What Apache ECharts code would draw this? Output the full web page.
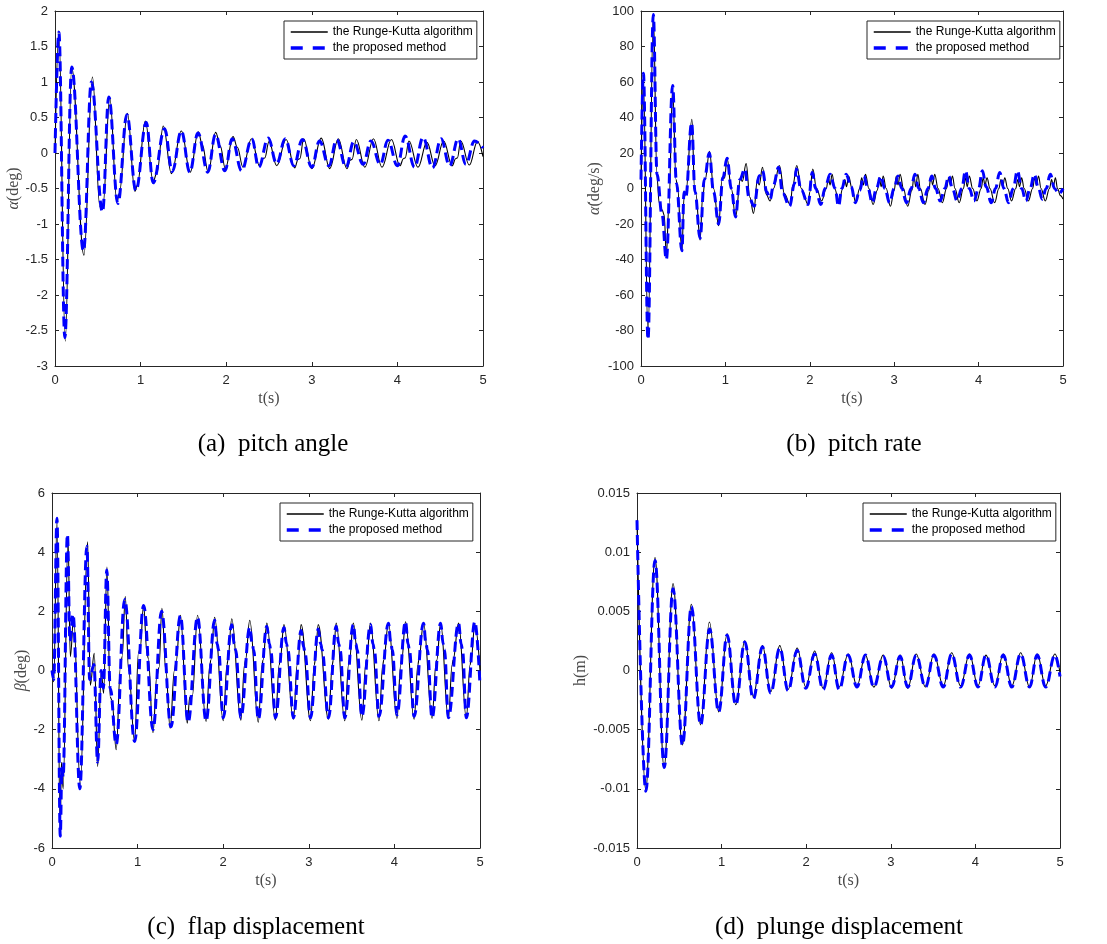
<!DOCTYPE html>
<html>
<head>
<meta charset="utf-8">
<script src="https://cdn.jsdelivr.net/npm/echarts@6/dist/echarts.min.js"></script>
<style>
  html, body { margin: 0; padding: 0; background: #fff; }
  #chart { width: 1107px; height: 944px; }
</style>
</head>
<body>
<div id="chart"></div>
<script>
// legend names and captions
const names = ['the Runge-Kutta algorithm', 'the proposed method'];
const captions = ['(a)  pitch angle', '(b)  pitch rate', '(c)  flap displacement', '(d)  plunge displacement'];

// (a) pitch angle, deg  [t, value]
const pitchAngleRK = [
  [0,0],[0.045,1.72],[0.12,-2.65],[0.195,1.2],[0.338,-1.44],[0.437,1.07],[0.525,-0.76],[0.56,-0.74],
  [0.64,0.78],[0.724,-0.69],[0.75,-0.57],[0.846,0.56],[0.934,-0.54],[0.96,-0.46],[1.055,0.45],
  [1.147,-0.4],[1.19,-0.28],[1.265,0.38],[1.36,-0.29],[1.476,0.31],[1.58,-0.27],[1.674,0.3],
  [1.72,0.12],[1.79,-0.27],[1.877,0.29],[1.93,0.1],[1.99,-0.22],[2.08,0.23],[2.13,0.08],[2.196,-0.2],
  [2.295,0.2],[2.39,-0.18],[2.43,-0.08],[2.45,-0.07],[2.5,0.16],[2.59,-0.18],[2.7,0.19],[2.8,-0.21],
  [2.84,-0.09],[2.86,-0.08],[2.905,0.2],[3.0,-0.22],[3.11,0.21],[3.21,-0.22],[3.31,0.2],[3.41,-0.22],
  [3.45,-0.1],[3.47,-0.09],[3.52,0.19],[3.62,-0.2],[3.72,0.2],[3.82,-0.2],[3.93,0.19],[4.03,-0.18],
  [4.07,-0.08],[4.09,-0.07],[4.135,0.17],[4.24,-0.2],[4.345,0.15],[4.44,-0.18],[4.54,0.17],[4.64,-0.18],
  [4.68,-0.08],[4.7,-0.07],[4.74,0.17],[4.84,-0.17],[4.935,0.16],[5.0,-0.05]
];
const pitchAnglePM = [
  [0,0],[0.045,1.7],[0.115,-2.6],[0.195,1.21],[0.333,-1.38],[0.425,1.0],[0.555,-0.83],[0.628,0.79],
  [0.735,-0.71],[0.84,0.54],[0.945,-0.53],[1.066,0.43],[1.147,-0.42],[1.28,0.34],[1.37,-0.26],
  [1.476,0.31],[1.575,-0.27],[1.67,0.28],[1.785,-0.27],[1.875,0.26],[1.985,-0.25],[2.07,0.2],
  [2.18,-0.25],[2.3,0.2],[2.38,-0.2],[2.49,0.21],[2.59,-0.15],[2.69,0.2],[2.79,-0.18],[2.89,0.19],
  [3.0,-0.2],[3.09,0.17],[3.2,-0.18],[3.29,0.19],[3.4,-0.2],[3.49,0.16],[3.6,-0.16],[3.69,0.17],
  [3.8,-0.16],[3.89,0.18],[4.0,-0.18],[4.09,0.24],[4.2,-0.2],[4.3,0.22],[4.41,-0.21],[4.51,0.2],
  [4.61,-0.18],[4.71,0.2],[4.8,-0.16],[4.9,0.17],[5.0,0.07]
];

// (b) pitch rate, deg/s
const pitchRateRK = [
  [0,5],[0.028,62],[0.083,-84],[0.146,98],[0.19,6],[0.215,-8],[0.25,-12],[0.275,-15],[0.3,-38],
  [0.33,-10],[0.375,56],[0.415,5],[0.43,2],[0.485,-35],[0.51,-5],[0.53,-3],[0.603,39],[0.635,0],
  [0.65,-3],[0.7,-29],[0.73,-5],[0.76,5],[0.812,21],[0.86,0],[0.92,-21],[0.96,5],[0.99,6],[1.02,17],
  [1.07,0],[1.12,-16],[1.18,6],[1.2,4],[1.246,14],[1.29,-5],[1.333,-14],[1.38,5],[1.4,2],[1.44,12],
  [1.48,-3],[1.53,-7],[1.57,0],[1.64,13],[1.7,-3],[1.766,-9],[1.8,2],[1.845,13],[1.9,0],[1.98,-9],
  [2.0,-2],[2.035,11],[2.08,0],[2.14,-7],[2.196,0],[2.22,6],[2.24,2],[2.265,8],[2.295,0],[2.345,-8],
  [2.39,0],[2.415,5],[2.435,1],[2.46,7],[2.5,0],[2.545,-8],[2.59,0],[2.615,6],[2.635,2],[2.66,8],
  [2.7,0],[2.75,-9],[2.8,-1],[2.825,6],[2.845,1],[2.87,7],[2.905,0],[2.955,-10],[3.0,-1],[3.025,7],
  [3.045,2],[3.07,8],[3.11,0],[3.16,-10],[3.21,-1],[3.235,7],[3.255,1],[3.28,8],[3.31,0],[3.365,-9],
  [3.41,-1],[3.435,7],[3.455,2],[3.48,8],[3.52,0],[3.57,-8],[3.62,0],[3.645,6],[3.665,2],[3.69,7],
  [3.72,0],[3.77,-8],[3.82,0],[3.845,6],[3.865,1],[3.89,7],[3.93,0],[3.98,-7],[4.03,0],[4.055,6],
  [4.075,2],[4.1,6],[4.135,0],[4.19,-8],[4.24,0],[4.265,5],[4.285,1],[4.31,6],[4.345,0],[4.39,-7],
  [4.44,0],[4.465,5],[4.485,1],[4.51,6],[4.54,0],[4.59,-7],[4.64,0],[4.665,6],[4.685,2],[4.71,7],
  [4.74,0],[4.79,-7],[4.84,0],[4.865,5],[4.885,1],[4.91,6],[4.935,0],[4.97,-4],[5.0,-6]
];
const pitchRatePM = [
  [0,5],[0.028,65],[0.083,-85],[0.146,98],[0.19,8],[0.25,-15],[0.3,-40],[0.375,58],[0.42,3],
  [0.485,-35],[0.51,-2],[0.53,-5],[0.6,37],[0.64,-2],[0.7,-28],[0.75,5],[0.81,20],[0.86,-2],
  [0.92,-20],[0.97,6],[1.02,17],[1.07,0],[1.12,-16],[1.17,5],[1.23,11],[1.28,-5],[1.34,-10],
  [1.4,7],[1.44,10],[1.49,-2],[1.53,-6],[1.57,2],[1.63,12],[1.68,-3],[1.76,-10],[1.82,3],[1.84,11],
  [1.9,-1],[1.98,-9],[2.03,9],[2.07,0],[2.13,-9],[2.18,0],[2.24,8],[2.3,0],[2.34,-10],[2.38,0],
  [2.43,8],[2.49,1],[2.54,-8],[2.59,-1],[2.64,7],[2.69,0],[2.74,-8],[2.79,0],[2.84,7],[2.89,0],
  [2.945,-8],[3.0,0],[3.045,7],[3.09,0],[3.145,-8],[3.2,0],[3.245,8],[3.29,0],[3.345,-8],[3.4,0],
  [3.445,7],[3.49,0],[3.545,-7],[3.6,0],[3.645,7],[3.69,0],[3.745,-7],[3.8,0],[3.845,10],[3.89,0],
  [3.945,-7],[4.0,0],[4.045,10],[4.09,1],[4.15,-8],[4.2,0],[4.25,9],[4.3,0],[4.355,-8],[4.41,0],
  [4.46,10],[4.51,0],[4.56,-7],[4.61,0],[4.66,8],[4.71,0],[4.755,-6],[4.8,0],[4.85,8],[4.9,0],
  [4.95,-3],[5.0,0]
];

// (c) flap displacement, deg
const flapRK = [
  [0,0],[0.02,-0.38],[0.058,5.05],[0.095,-5.6],[0.11,-3.1],[0.13,-4.0],[0.187,4.46],[0.214,0.47],
  [0.253,1.8],[0.33,-3.9],[0.416,4.35],[0.447,-0.5],[0.494,0.58],[0.533,-3.25],[0.576,-0.05],
  [0.603,-0.77],[0.642,3.5],[0.68,-0.9],[0.7,-1.0],[0.75,-2.68],[0.8,0.13],[0.82,0.47],[0.856,2.5],
  [0.895,0],[0.965,-2.4],[1.01,0.6],[1.03,0.75],[1.07,2.2],[1.11,0.58],[1.125,0.4],[1.18,-2.1],
  [1.225,-0.2],[1.25,0.1],[1.284,2.1],[1.33,0],[1.38,-1.95],[1.43,0],[1.45,0.3],[1.5,1.87],
  [1.58,-1.78],[1.61,-0.9],[1.64,-0.85],[1.7,1.87],[1.8,-1.72],[1.845,0.2],[1.855,0.35],[1.9,1.8],
  [2.0,-1.7],[2.045,0.2],[2.055,0.35],[2.1,1.75],[2.206,-1.68],[2.25,0.2],[2.26,0.35],[2.31,1.7],
  [2.41,-1.75],[2.455,0.2],[2.465,0.35],[2.51,1.6],[2.61,-1.68],[2.655,0.2],[2.665,0.35],[2.71,1.55],
  [2.82,-1.65],[2.865,0.2],[2.875,0.35],[2.91,1.55],[3.02,-1.7],[3.065,0.2],[3.075,0.35],[3.11,1.55],
  [3.23,-1.65],[3.275,0.2],[3.285,0.35],[3.32,1.6],[3.42,-1.7],[3.465,0.2],[3.475,0.35],[3.52,1.6],
  [3.62,-1.68],[3.665,0.2],[3.675,0.35],[3.72,1.6],[3.82,-1.7],[3.865,0.2],[3.875,0.35],[3.93,1.6],
  [4.03,-1.62],[4.075,0.2],[4.085,0.35],[4.13,1.65],[4.23,-1.65],[4.275,0.2],[4.285,0.35],[4.34,1.6],
  [4.44,-1.62],[4.485,0.2],[4.495,0.35],[4.54,1.6],[4.63,-1.62],[4.675,0.2],[4.685,0.35],[4.75,1.6],
  [4.84,-1.6],[4.885,0.2],[4.895,0.35],[4.94,1.55],[5.0,0]
];
const flapPM = [
  [0,0],[0.02,-0.3],[0.058,5.15],[0.097,-5.6],[0.115,-3.3],[0.13,-3.6],[0.18,4.6],[0.21,1.0],
  [0.245,1.9],[0.325,-4.0],[0.408,4.2],[0.44,-0.3],[0.49,0.2],[0.533,-3.1],[0.574,0.0],[0.6,-0.6],
  [0.64,3.4],[0.68,-0.6],[0.75,-2.5],[0.85,2.4],[0.965,-2.4],[1.07,2.2],[1.18,-2.0],[1.28,2.0],
  [1.39,-1.9],[1.5,1.85],[1.59,-1.75],[1.7,1.8],[1.8,-1.7],[1.9,1.7],[1.93,0.9],[1.945,0.7],
  [2.0,-1.6],[2.1,1.55],[2.13,0.9],[2.145,0.7],[2.206,-1.6],[2.31,1.45],[2.34,0.9],[2.355,0.7],
  [2.41,-1.65],[2.51,1.5],[2.54,0.9],[2.555,0.7],[2.61,-1.6],[2.71,1.45],[2.74,0.9],[2.755,0.7],
  [2.82,-1.6],[2.91,1.35],[2.94,0.8],[2.955,0.6],[3.02,-1.6],[3.11,1.4],[3.14,0.9],[3.155,0.7],
  [3.23,-1.6],[3.32,1.5],[3.35,0.9],[3.365,0.7],[3.42,-1.6],[3.52,1.55],[3.55,0.9],[3.565,0.7],
  [3.62,-1.55],[3.72,1.55],[3.75,0.9],[3.765,0.7],[3.82,-1.55],[3.93,1.6],[3.96,0.9],[3.975,0.7],
  [4.03,-1.5],[4.13,1.65],[4.16,0.9],[4.175,0.7],[4.23,-1.55],[4.34,1.6],[4.37,0.9],[4.385,0.7],
  [4.44,-1.6],[4.54,1.6],[4.57,0.9],[4.585,0.7],[4.63,-1.6],[4.75,1.6],[4.78,0.9],[4.795,0.7],
  [4.84,-1.6],[4.94,1.65],[5.0,-0.5]
];

// (d) plunge displacement, m
const plungeRK = [
  [0,0.0127],[0.103,-0.0101],[0.213,0.00955],[0.32,-0.0082],[0.426,0.00735],[0.536,-0.0063],
  [0.643,0.0056],[0.75,-0.0046],[0.856,0.0041],[0.966,-0.0035],[1.065,0.0031],[1.167,-0.0029],
  [1.274,0.0025],[1.372,-0.0022],[1.483,0.0021],[1.58,-0.0018],[1.688,0.0021],[1.786,-0.0016],
  [1.893,0.0019],[1.995,-0.0014],[2.1,0.00165],[2.2,-0.0015],[2.3,0.0015],[2.39,-0.0014],
  [2.496,0.0014],[2.6,-0.0013],[2.7,0.0013],[2.8,-0.0014],[2.91,0.0013],[3.01,-0.0015],
  [3.11,0.0013],[3.2,-0.0015],[3.3,0.0014],[3.41,-0.0014],[3.51,0.0014],[3.62,-0.0013],
  [3.72,0.0015],[3.825,-0.0013],[3.93,0.0014],[4.03,-0.0013],[4.125,0.0013],[4.23,-0.0013],
  [4.33,0.0014],[4.43,-0.0013],[4.535,0.0015],[4.64,-0.0014],[4.73,0.0014],[4.83,-0.0013],
  [4.94,0.0014],[5.0,-0.0002]
];
const plungePM = [
  [0,0.0127],[0.105,-0.0102],[0.213,0.0093],[0.322,-0.0082],[0.426,0.0069],[0.538,-0.0063],
  [0.643,0.0054],[0.752,-0.0046],[0.858,0.0035],[0.966,-0.0035],[1.065,0.003],[1.167,-0.0029],
  [1.274,0.0024],[1.375,-0.0024],[1.483,0.002],[1.58,-0.0019],[1.688,0.0019],[1.786,-0.0017],
  [1.893,0.0017],[1.995,-0.0015],[2.1,0.0014],[2.2,-0.0016],[2.3,0.0013],[2.39,-0.0016],
  [2.496,0.0013],[2.6,-0.0014],[2.7,0.0013],[2.8,-0.0014],[2.91,0.0012],[3.01,-0.0014],
  [3.11,0.0012],[3.2,-0.0014],[3.3,0.0013],[3.41,-0.0014],[3.51,0.0013],[3.62,-0.0014],
  [3.72,0.0014],[3.825,-0.0014],[3.93,0.0013],[4.03,-0.0014],[4.125,0.0013],[4.23,-0.0014],
  [4.33,0.0013],[4.43,-0.0014],[4.535,0.0014],[4.64,-0.0014],[4.73,0.0013],[4.83,-0.0014],
  [4.94,0.0013],[5.0,-0.0005]
];

// y-axis ranges [min, max, interval]
const yRanges = [[-3, 2, 0.5], [-100, 100, 20], [-6, 6, 2], [-0.015, 0.015, 0.005]];
const yNames = ['{i|α}(deg)', '{i|α̇}(deg/s)', '{i|β}(deg)', 'h(m)'];
const xName = 't(s)';

const chart = echarts.init(document.getElementById('chart'));

const grids = [
  { left: 55, top: 11, width: 428, height: 355 },
  { left: 641, top: 11, width: 422, height: 355 },
  { left: 52, top: 493, width: 428, height: 355 },
  { left: 637, top: 493, width: 423, height: 355 }
];
const yNameGap = [30, 38, 20, 43];
const legendPos = [[284, 21], [867, 21], [280, 503], [863, 503]];
const captionPos = [[273, 444], [854, 444], [256, 927], [839, 927]];

const axisColor = '#262626';
const nameColor = '#4a4a4a';
const tickFont = 'Liberation Sans, Arial, sans-serif';
const mathFont = 'Liberation Serif, DejaVu Serif, serif';

const xAxes = [], yAxes = [], series = [], legends = [];
const allData = [
  [pitchAngleRK, pitchAnglePM],
  [pitchRateRK, pitchRatePM],
  [flapRK, flapPM],
  [plungeRK, plungePM]
];

grids.forEach((g, i) => {
  const [ymin, ymax, yint] = yRanges[i];
  const line = { show: true, onZero: false, lineStyle: { color: axisColor, width: 1 } };
  const tick = { show: true, inside: true, length: 4, lineStyle: { color: axisColor } };
  xAxes.push({
    gridIndex: i, type: 'value', min: 0, max: 5, interval: 1, position: 'bottom',
    axisLine: line, axisTick: tick, splitLine: { show: false },
    axisLabel: { color: axisColor, fontSize: 13, fontFamily: tickFont, margin: 8 },
    name: xName, nameLocation: 'middle', nameGap: 25,
    nameTextStyle: { fontFamily: mathFont, fontSize: 16, color: nameColor }
  });
  xAxes.push({
    gridIndex: i, type: 'value', min: 0, max: 5, interval: 1, position: 'top',
    axisLine: line, axisTick: tick, splitLine: { show: false }, axisLabel: { show: false }
  });
  yAxes.push({
    gridIndex: i, type: 'value', min: ymin, max: ymax, interval: yint, position: 'left',
    axisLine: line, axisTick: tick, splitLine: { show: false },
    axisLabel: {
      color: axisColor, fontSize: 13, fontFamily: tickFont, margin: 7,
      formatter: v => String(+v.toFixed(4))
    },
    name: yNames[i], nameLocation: 'middle', nameGap: yNameGap[i], nameRotate: 90,
    nameTextStyle: {
      fontFamily: mathFont, fontSize: 16, color: nameColor,
      rich: { i: { fontStyle: 'italic', fontFamily: mathFont, fontSize: 16, color: nameColor } }
    }
  });
  yAxes.push({
    gridIndex: i, type: 'value', min: ymin, max: ymax, interval: yint, position: 'right',
    axisLine: line, axisTick: tick, splitLine: { show: false }, axisLabel: { show: false }
  });

  const [rk, pm] = allData[i];
  series.push({
    name: names[0], type: 'line', xAxisIndex: i * 2, yAxisIndex: i * 2,
    data: rk, showSymbol: false, symbol: 'none', smooth: 0.4, smoothMonotone: 'x',
    lineStyle: { color: '#000', width: 1.1 }, itemStyle: { color: '#000' }, z: 2
  });
  series.push({
    name: names[1], type: 'line', xAxisIndex: i * 2, yAxisIndex: i * 2,
    data: pm, showSymbol: false, symbol: 'none', smooth: 0.4, smoothMonotone: 'x',
    lineStyle: { color: '#0000ff', width: 3, type: [10, 5] }, itemStyle: { color: '#0000ff' }, z: 3
  });

  legends.push({
    data: [
      { name: names[0], lineStyle: { color: '#000', width: 1.3, type: 'solid' } },
      { name: names[1], lineStyle: { color: '#0000ff', width: 3.5, type: [12, 10] } }
    ],
    orient: 'vertical', left: legendPos[i][0], top: legendPos[i][1],
    itemWidth: 37, itemHeight: 12, itemGap: 4, itemTextGap: 4,
    itemStyle: { opacity: 0 },
    padding: [5, 4, 5, 5], borderColor: axisColor, borderWidth: 1, backgroundColor: '#fff',
    selectedMode: false,
    textStyle: { fontSize: 12, color: '#000', fontFamily: tickFont }
  });
});

const graphics = captions.map((c, i) => ({
  type: 'text', x: captionPos[i][0], y: captionPos[i][1],
  style: {
    text: c, fill: '#000', font: '25px "Liberation Serif", "Times New Roman", serif',
    textAlign: 'center', textVerticalAlign: 'middle'
  }
}));

chart.setOption({
  animation: false,
  backgroundColor: '#fff',
  grid: grids,
  xAxis: xAxes,
  yAxis: yAxes,
  legend: legends,
  series: series,
  graphic: graphics
});
</script>
</body>
</html>
